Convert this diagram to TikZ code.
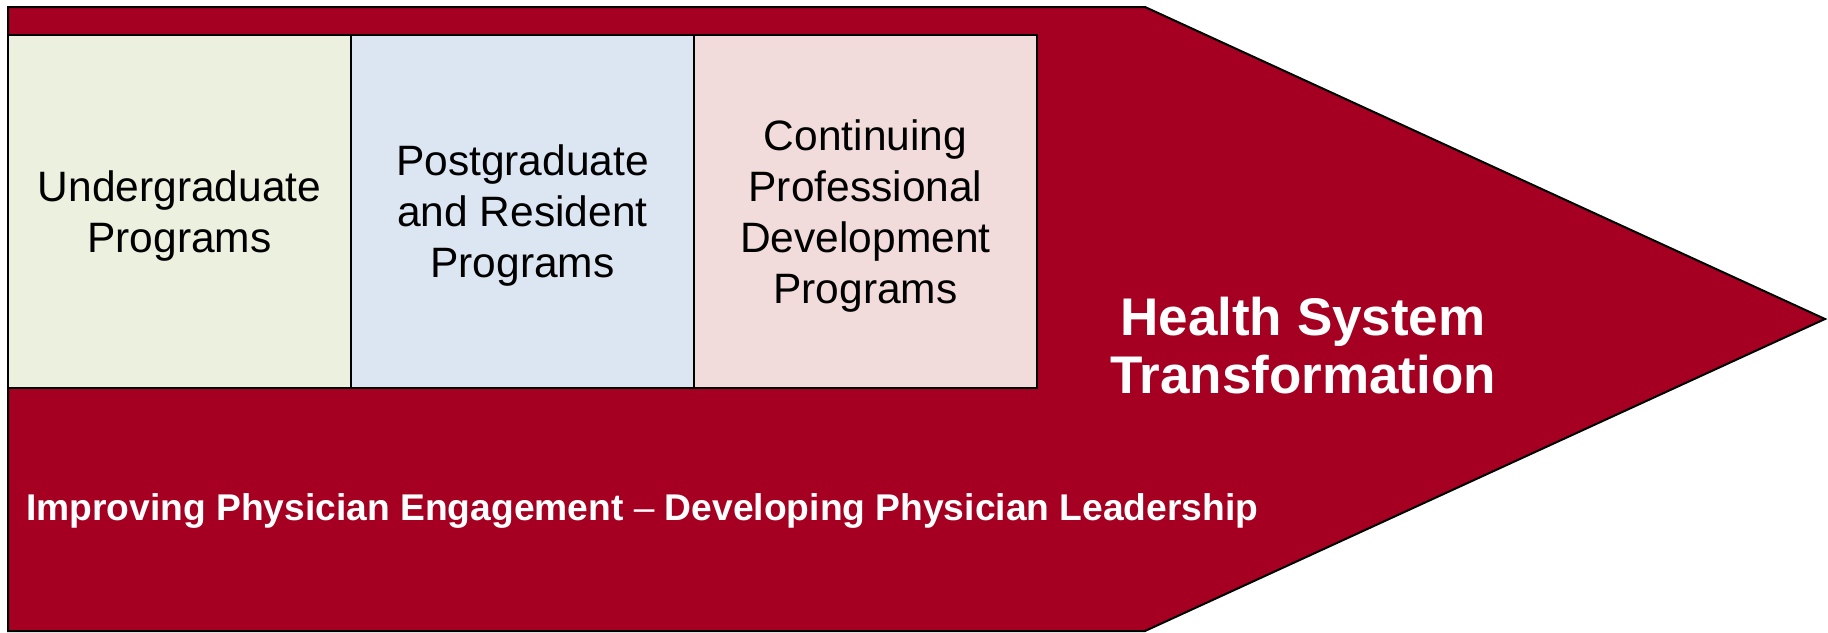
\documentclass[tikz,border=0pt]{standalone}
\usepackage{xcolor}
\usepackage{fontspec}
\setmainfont{Liberation Sans}
\usepackage{tikz}
\usetikzlibrary{positioning}

\definecolor{crimson}{HTML}{A50021}
\definecolor{ugfill}{HTML}{EBF0DF}
\definecolor{pgfill}{HTML}{DCE6F2}
\definecolor{cpdfill}{HTML}{F2DCDB}

\tikzset{
  progbox/.style={draw=black, line width=1.5pt, outer sep=0pt, inner sep=0pt,
    minimum width=343pt, minimum height=353pt, align=center,
    font=\fontsize{42.5}{51}\selectfont, text depth=-2pt},
  whitetext/.style={text=white, font=\bfseries}
}

\begin{document}
\begin{tikzpicture}[x=1pt, y=-1pt]
  \useasboundingbox (0,0) rectangle (1828,632);
  % big arrow
  \fill[crimson, draw=black, line width=2pt, line join=miter]
    (8,7) -- (1145,7) -- (1825,319) -- (1145,631) -- (8,631) -- cycle;
  % the three program boxes
  \node[progbox, fill=ugfill, anchor=north west] (ugrad) at (8,35)
    {Undergraduate\\Programs};
  \node[progbox, fill=pgfill, right=0pt of ugrad] (pgrad)
    {Postgraduate\\and Resident\\Programs};
  \node[progbox, fill=cpdfill, right=0pt of pgrad] (cpd)
    {Continuing\\Professional\\Development\\Programs};
  % labels on the arrow
  \node[whitetext, align=center, font=\bfseries\fontsize{53}{58}\selectfont]
    (hst) at (1303,346) {Health System\\Transformation};
  \node[whitetext, anchor=base west, font=\bfseries\fontsize{37.2}{44}\selectfont,
    inner sep=0pt] (lead) at (26,520)
    {Improving Physician Engagement {\mdseries\textendash} Developing Physician Leadership};
\end{tikzpicture}
\end{document}
